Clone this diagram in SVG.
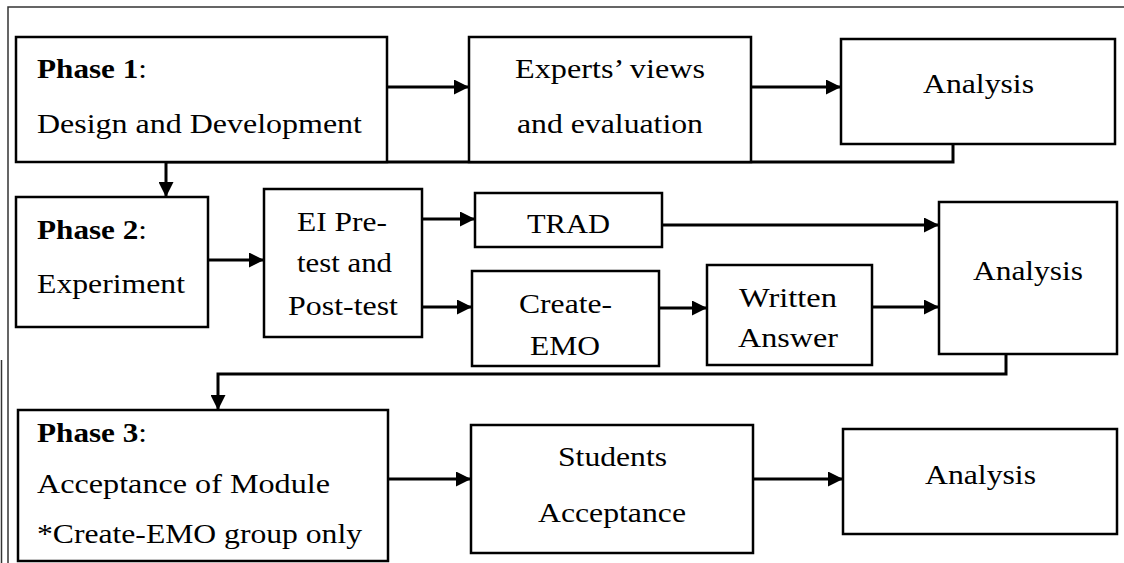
<svg xmlns="http://www.w3.org/2000/svg" width="1124" height="563" viewBox="0 0 1124 563">
<style>
.box{fill:#fff;stroke:#000;stroke-width:2.5}
.t{font-family:"Liberation Serif","Times New Roman",serif;font-size:27px;fill:#000}
.c{text-anchor:middle}
.b{font-weight:bold}
.ln{fill:none;stroke:#000;stroke-width:3}
.frame{fill:none;stroke:#333;stroke-width:1.5}
</style>
<defs>
<marker id="ah" viewBox="0 0 10 10" refX="10" refY="5" markerWidth="5" markerHeight="5" markerUnits="strokeWidth" orient="auto">
<path d="M0,0 L10,5 L0,10 Z" fill="#000"/>
</marker>
</defs>
<rect width="1124" height="563" fill="#fff"/>
<g id="frame">
<path class="frame" d="M8,563 V7 H1124"/>
<path class="frame" d="M1.5,360 V563" stroke="#777"/>
</g>
<g id="connectors">
<path class="ln" d="M387,87 H469" marker-end="url(#ah)"/>
<path class="ln" d="M751,87 H841" marker-end="url(#ah)"/>
<path class="ln" d="M953,144 V162 H166 V197" marker-end="url(#ah)"/>
<path class="ln" d="M208,260 H264" marker-end="url(#ah)"/>
<path class="ln" d="M422,219 H475" marker-end="url(#ah)"/>
<path class="ln" d="M422,307 H472" marker-end="url(#ah)"/>
<path class="ln" d="M659,308 H707" marker-end="url(#ah)"/>
<path class="ln" d="M662,225 H939" marker-end="url(#ah)"/>
<path class="ln" d="M872,307 H939" marker-end="url(#ah)"/>
<path class="ln" d="M1006,354 V374 H218 V410" marker-end="url(#ah)"/>
<path class="ln" d="M388,479 H471" marker-end="url(#ah)"/>
<path class="ln" d="M753,479 H843" marker-end="url(#ah)"/>
</g>
<g id="phase1">
<rect class="box" x="16" y="37" width="371" height="125"/>
<text class="t" x="37" y="78" textLength="110" lengthAdjust="spacingAndGlyphs"><tspan class="b">Phase 1</tspan>:</text>
<text class="t" x="37" y="133" textLength="325" lengthAdjust="spacingAndGlyphs">Design and Development</text>
</g>
<g id="experts">
<rect class="box" x="469" y="37" width="282" height="125"/>
<text class="t c" x="610" y="78" textLength="190" lengthAdjust="spacingAndGlyphs">Experts’ views</text>
<text class="t c" x="610" y="133" textLength="186" lengthAdjust="spacingAndGlyphs">and evaluation</text>
</g>
<g id="analysis1">
<rect class="box" x="841" y="39" width="274" height="105"/>
<text class="t c" x="978.5" y="93" textLength="111" lengthAdjust="spacingAndGlyphs">Analysis</text>
</g>
<g id="phase2">
<rect class="box" x="16" y="197" width="192" height="130"/>
<text class="t" x="37" y="239" textLength="110" lengthAdjust="spacingAndGlyphs"><tspan class="b">Phase 2</tspan>:</text>
<text class="t" x="37" y="293" textLength="148" lengthAdjust="spacingAndGlyphs">Experiment</text>
</g>
<g id="eitest">
<rect class="box" x="264" y="189" width="158" height="148"/>
<text class="t c" x="342" y="231" textLength="90" lengthAdjust="spacingAndGlyphs">EI Pre-</text>
<text class="t c" x="344.5" y="272" textLength="95" lengthAdjust="spacingAndGlyphs">test and</text>
<text class="t c" x="343" y="315" textLength="110" lengthAdjust="spacingAndGlyphs">Post-test</text>
</g>
<g id="trad">
<rect class="box" x="475" y="193" width="187" height="54"/>
<text class="t c" x="568.5" y="233" textLength="83" lengthAdjust="spacingAndGlyphs">TRAD</text>
</g>
<g id="createemo">
<rect class="box" x="472" y="271" width="187" height="95"/>
<text class="t c" x="565.5" y="313" textLength="93" lengthAdjust="spacingAndGlyphs">Create-</text>
<text class="t c" x="565" y="355" textLength="70" lengthAdjust="spacingAndGlyphs">EMO</text>
</g>
<g id="written">
<rect class="box" x="707" y="265" width="165" height="100"/>
<text class="t c" x="788" y="307" textLength="98" lengthAdjust="spacingAndGlyphs">Written</text>
<text class="t c" x="788" y="347" textLength="100" lengthAdjust="spacingAndGlyphs">Answer</text>
</g>
<g id="analysis2">
<rect class="box" x="939" y="202" width="178" height="152"/>
<text class="t c" x="1028" y="280" textLength="110" lengthAdjust="spacingAndGlyphs">Analysis</text>
</g>
<g id="phase3">
<rect class="box" x="18" y="410" width="370" height="151"/>
<text class="t" x="37" y="442" textLength="110" lengthAdjust="spacingAndGlyphs"><tspan class="b">Phase 3</tspan>:</text>
<text class="t" x="37" y="493" textLength="293" lengthAdjust="spacingAndGlyphs">Acceptance of Module</text>
<text class="t" x="37" y="543" textLength="325" lengthAdjust="spacingAndGlyphs">*Create-EMO group only</text>
</g>
<g id="students">
<rect class="box" x="471" y="425" width="282" height="128"/>
<text class="t c" x="612.5" y="466" textLength="109" lengthAdjust="spacingAndGlyphs">Students</text>
<text class="t c" x="612" y="522" textLength="148" lengthAdjust="spacingAndGlyphs">Acceptance</text>
</g>
<g id="analysis3">
<rect class="box" x="843" y="429" width="274" height="105"/>
<text class="t c" x="980.5" y="484" textLength="111" lengthAdjust="spacingAndGlyphs">Analysis</text>
</g>
</svg>
